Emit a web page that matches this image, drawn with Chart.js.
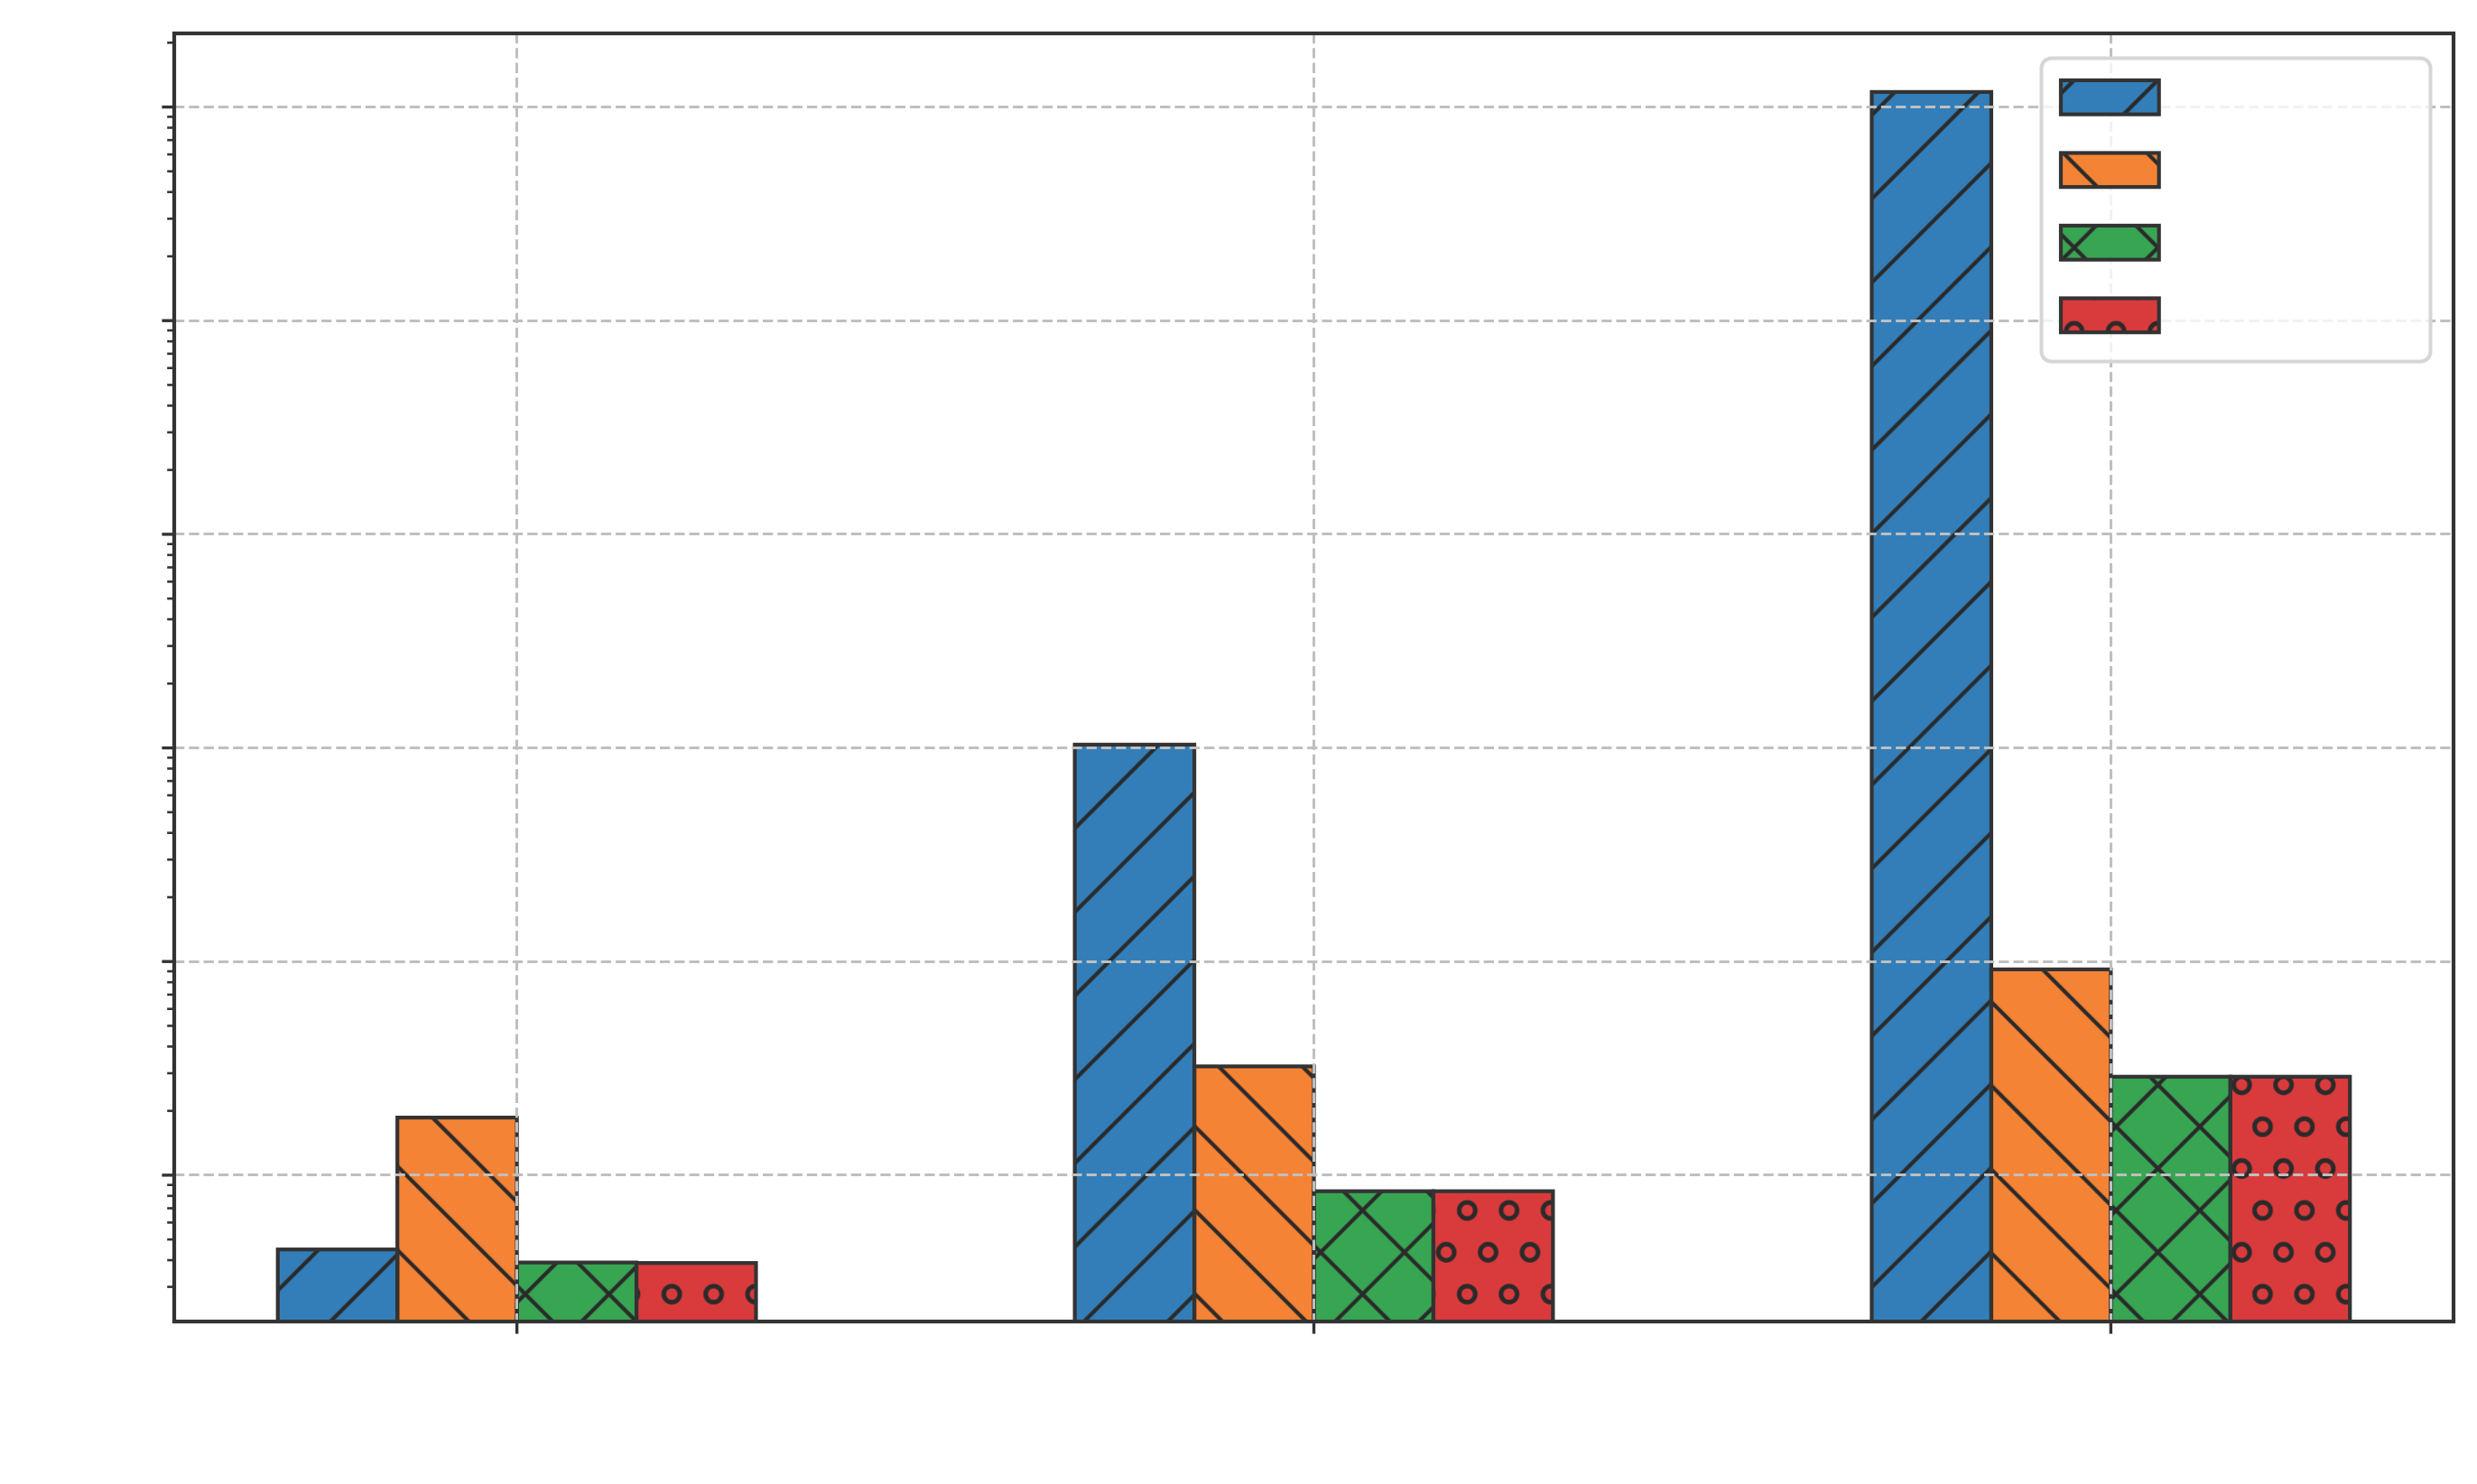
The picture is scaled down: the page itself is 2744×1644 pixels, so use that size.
<!DOCTYPE html>
<html>
<head>
<meta charset="utf-8">
<script src="https://cdn.jsdelivr.net/npm/chart.js@4.4.1/dist/chart.umd.min.js"></script>
<style>
  html, body { margin: 0; padding: 0; background: #ffffff; }
  #wrap { width: 2744px; height: 1644px; position: relative; }
  canvas { display: block; }
</style>
</head>
<body>
<div id="wrap"><canvas id="c" width="2744" height="1644"></canvas></div>
<script>
// ---- data (the original shows no text labels) ----
const categories = [0, 1, 2];                 // group positions on the x axis
const seriesLabels = ['', '', '', ''];         // legend labels (empty in the original)
const blueValues   = [0.449, 103.6, 117600];
const orangeValues = [1.86, 3.23, 9.19];
const greenValues  = [0.390, 0.841, 2.89];
const redValues    = [0.388, 0.841, 2.89];
const yMajorTicks  = [1, 10, 100, 1000, 10000, 100000];
const yMinorMultipliers = [0.3, 0.4, 0.5, 0.6, 0.7, 0.8, 0.9, 2, 3, 4, 5, 6, 7, 8, 9, 20, 30, 40, 50, 60, 70, 80, 90,
  200, 300, 400, 500, 600, 700, 800, 900, 2000, 3000, 4000, 5000, 6000, 7000, 8000, 9000,
  20000, 30000, 40000, 50000, 60000, 70000, 80000, 90000, 200000];
const yMin = 0.2065, yMax = 221100;
const xMin = -0.43, xMax = 2.43;

// ---- styles ----
const fillColors = ['#337EB8', '#F58335', '#38A553', '#D93B3C'];
const hatches = ['/', '\\', 'x', 'o'];
const edgeColor = '#333333';
const hatchColor = '#2a2a2a';
const gridColor = '#bfbfbf';
const edgeWidth = 4.2;

const U = 92.75;       // hatch line spacing (px)
const T = 371;         // tile size = 4 * U
const hatchOrigin = [2483.3, 1201.7];

function makePattern(ctx, color, kind) {
  const c = document.createElement('canvas');
  c.width = T; c.height = T;
  const g = c.getContext('2d');
  g.fillStyle = color;
  g.fillRect(0, 0, T, T);
  g.strokeStyle = hatchColor;
  g.lineWidth = 4.3;
  g.lineCap = 'butt';
  if (kind === '/' || kind === 'x') {
    for (let k = -2; k <= 10; k++) {
      const cc = k * U;
      g.beginPath();
      g.moveTo(cc + U, -U);
      g.lineTo(cc - T - U, T + U);
      g.stroke();
    }
  }
  if (kind === '\\' || kind === 'x') {
    for (let k = -6; k <= 6; k++) {
      const cc = k * U;
      g.beginPath();
      g.moveTo(-U, -U + cc);
      g.lineTo(T + U, T + U + cc);
      g.stroke();
    }
  }
  if (kind === 'o') {
    const s = U / 2;
    g.lineWidth = 5;
    for (let r = -1; r <= 9; r++) {
      const odd = Math.abs(r) % 2 === 1;
      for (let j = -1; j <= 9; j++) {
        const x = odd ? (j + 0.5) * s : j * s;
        const y = r * s;
        g.beginPath();
        g.arc(x, y, 8.9, 0, Math.PI * 2);
        g.stroke();
      }
    }
  }
  const p = ctx.createPattern(c, 'repeat');
  p.setTransform(new DOMMatrix([1, 0, 0, 1, hatchOrigin[0], hatchOrigin[1]]));
  return p;
}

const canvas = document.getElementById('c');
const ctx = canvas.getContext('2d');
const patterns = fillColors.map((col, i) => makePattern(ctx, col, hatches[i]));

const seriesValues = [blueValues, orangeValues, greenValues, redValues];
const datasets = seriesValues.map((vals, i) => ({
  label: seriesLabels[i],
  data: categories.map((x, j) => ({ x: x, y: vals[j] })),
  backgroundColor: patterns[i],
  borderColor: edgeColor,
  borderWidth: 0,
  borderSkipped: false,
  inflateAmount: 0,
  categoryPercentage: 0.6,
  barPercentage: 1.0
}));

// bar edges centred on the bar outline (as in the original), drawn from the library's bar geometry
const edgePlugin = {
  id: 'edges',
  afterDatasetsDraw(chart) {
    const c = chart.ctx;
    const a = chart.chartArea;
    c.save();
    c.beginPath();
    c.rect(a.left, a.top, a.right - a.left, a.bottom - a.top);
    c.clip();
    c.strokeStyle = edgeColor;
    c.lineWidth = edgeWidth;
    c.lineJoin = 'miter';
    chart.data.datasets.forEach((ds, i) => {
      const meta = chart.getDatasetMeta(i);
      meta.data.forEach(el => {
        const p = el.getProps(['x', 'y', 'base', 'width'], true);
        const top = Math.min(p.y, p.base), bot = Math.max(p.y, p.base);
        c.strokeRect(p.x - p.width / 2, top, p.width, bot - top + 10);
      });
    });
    c.restore();
  }
};

const framePlugin = {
  id: 'frame',
  afterDraw(chart) {
    const c = chart.ctx;
    const a = chart.chartArea;
    const ys = chart.scales.y, xs = chart.scales.x;
    c.save();
    // tick marks
    c.strokeStyle = edgeColor;
    ys.ticks.forEach(t => {
      const py = ys.getPixelForValue(t.value);
      c.lineWidth = t.major ? 3.4 : 2.6;
      const len = t.major ? 13.6 : 7.8;
      c.beginPath();
      c.moveTo(a.left, py);
      c.lineTo(a.left - len, py);
      c.stroke();
    });
    xs.ticks.forEach(t => {
      const px = xs.getPixelForValue(t.value);
      c.lineWidth = 3.4;
      c.beginPath();
      c.moveTo(px, a.bottom);
      c.lineTo(px, a.bottom + 13.6);
      c.stroke();
    });
    // spines
    c.lineWidth = 4.2;
    c.strokeRect(a.left, a.top, a.right - a.left, a.bottom - a.top);
    // legend
    const bx = 2261.5, by = 64.5, bw = 431, bh = 336;
    c.beginPath();
    c.roundRect(bx, by, bw, bh, 11);
    c.fillStyle = 'rgba(255,255,255,0.8)';
    c.fill();
    c.strokeStyle = '#d6d6d6';
    c.lineWidth = 4;
    c.stroke();
    chart.data.datasets.forEach((ds, i) => {
      const cy = 107.8 + i * 80.5;
      const rx = 2283, rw = 108.7, rh = 37.7;
      c.fillStyle = ds.backgroundColor;
      c.fillRect(rx, cy - rh / 2, rw, rh);
      c.strokeStyle = edgeColor;
      c.lineWidth = edgeWidth;
      c.strokeRect(rx, cy - rh / 2, rw, rh);
    });
    c.restore();
  }
};

new Chart(ctx, {
  type: 'bar',
  data: { datasets: datasets },
  options: {
    responsive: false,
    animation: false,
    devicePixelRatio: 1,
    layout: { padding: { left: 193, top: 37, right: 26, bottom: 180 } },
    plugins: { legend: { display: false }, tooltip: { enabled: false } },
    scales: {
      x: {
        type: 'linear',
        min: xMin, max: xMax,
        bounds: 'data',
        offset: false,
        afterBuildTicks: s => { s.ticks = categories.map(v => ({ value: v, major: true })); },
        afterFit: s => { s.height = 0; },
        ticks: { display: false },
        grid: { offset: false, color: gridColor, lineWidth: 3, drawTicks: false, z: 1, borderDash: [11.3, 5] },
        border: { display: false, dash: [11.3, 5] }
      },
      y: {
        type: 'logarithmic',
        min: yMin, max: yMax,
        bounds: 'data',
        afterBuildTicks: s => {
          const majors = yMajorTicks.map(v => ({ value: v, major: true }));
          const minors = yMinorMultipliers.filter(v => v >= yMin && v <= yMax).map(v => ({ value: v, major: false }));
          s.ticks = majors.concat(minors).sort((p, q) => p.value - q.value);
        },
        afterFit: s => { s.width = 0; },
        ticks: { display: false },
        grid: {
          offset: false,
          color: ctx2 => (ctx2.tick && ctx2.tick.major) ? gridColor : 'rgba(0,0,0,0)',
          lineWidth: 3, drawTicks: false, z: 1, borderDash: [11.3, 5]
        },
        border: { display: false, dash: [11.3, 5] }
      }
    }
  },
  plugins: [edgePlugin, framePlugin]
});
</script>
</body>
</html>
